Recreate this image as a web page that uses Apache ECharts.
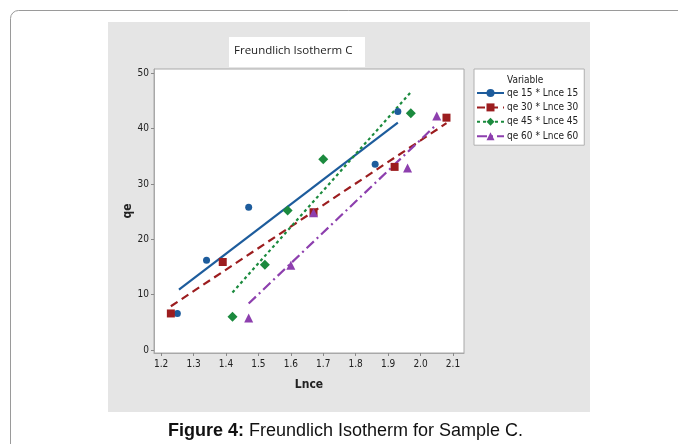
<!DOCTYPE html>
<html>
<head>
<meta charset="utf-8">
<script src="https://cdn.jsdelivr.net/npm/echarts@6/dist/echarts.min.js"></script>
<style>
  html, body { margin: 0; padding: 0; background: #fff; }
  #chart { width: 678px; height: 444px; }
</style>
</head>
<body>
<div id="chart"></div>
<script>
// tick labels
const xTicks = [1.2, 1.3, 1.4, 1.5, 1.6, 1.7, 1.8, 1.9, 2.0, 2.1]
const yTicks = [0, 10, 20, 30, 40, 50]

const seriesNames = ['qe 15 * Lnce 15', 'qe 30 * Lnce 30', 'qe 45 * Lnce 45', 'qe 60 * Lnce 60']

// observed points [Lnce, qe]
const qe15Points = [[1.25, 6.6], [1.34, 16.2], [1.47, 25.8], [1.86, 33.6], [1.93, 43.1]]
const qe30Points = [[1.23, 6.6], [1.39, 15.9], [1.67, 24.9], [1.92, 33.1], [2.08, 42.0]]
const qe45Points = [[1.42, 6.0], [1.52, 15.4], [1.59, 25.2], [1.70, 34.5], [1.97, 42.8]]
const qe60Points = [[1.47, 5.8], [1.60, 15.3], [1.67, 24.8], [1.96, 32.9], [2.05, 42.3]]

// fitted lines, end points
const qe15Fit = [[1.255, 10.9], [1.93, 41.1]]
const qe30Fit = [[1.23, 7.9], [2.08, 41.0]]
const qe45Fit = [[1.42, 10.4], [1.97, 46.6]]
const qe60Fit = [[1.47, 8.4], [2.05, 40.8]]

const colors = ['#1d5c9c', '#9c1d1f', '#1b8a3e', '#8d3fae']
const symbols = ['circle', 'rect', 'diamond', 'triangle']
const symbolSizes = [7, 8, 10, 9]
const dashTypes = ['solid', [8, 5], [3, 3], [10, 4, 2, 4]]

const fits = [qe15Fit, qe30Fit, qe45Fit, qe60Fit]
const points = [qe15Points, qe30Points, qe45Points, qe60Points]

const narrow = '"Liberation Sans Narrow", "DejaVu Sans Condensed", sans-serif'

const chart = echarts.init(document.getElementById('chart'))

const series = []
seriesNames.forEach((name, i) => {
  series.push({
    name: name,
    type: 'line',
    data: fits[i],
    symbol: symbols[i],
    showSymbol: false,
    color: colors[i],
    lineStyle: { width: 2.2, type: dashTypes[i], color: colors[i] },
    itemStyle: { color: colors[i] },
    silent: true,
    z: 2,
  })
})
seriesNames.forEach((name, i) => {
  series.push({
    name: name + ' pts',
    type: 'scatter',
    data: points[i],
    symbol: symbols[i],
    symbolSize: symbolSizes[i],
    itemStyle: { color: colors[i], opacity: 1 },
    z: 3,
  })
})

chart.setOption({
  animation: false,
  backgroundColor: '#fff',
  grid: {
    left: 154,
    right: 214,
    top: 69,
    bottom: 91,
    show: true,
    backgroundColor: '#fff',
    borderColor: '#a8a8a8',
    borderWidth: 1,
  },
  legend: {
    data: seriesNames,
    orient: 'vertical',
    left: 474,
    top: 69,
    itemWidth: 27,
    itemHeight: 10,
    itemGap: 4.4,
    padding: [19, 6, 4, 2],
    backgroundColor: '#fff',
    borderColor: '#b0b0b0',
    borderWidth: 1,
    textStyle: { fontFamily: narrow, fontSize: 10, color: '#222', padding: [0, 0, 0, -2] },
  },
  xAxis: {
    type: 'value',
    min: 1.178,
    max: 2.134,
    name: 'Lnce',
    nameLocation: 'middle',
    nameGap: 26,
    nameTextStyle: { fontFamily: narrow, fontSize: 12, fontWeight: 'bold', color: '#222' },
    axisLine: { show: true, onZero: false, lineStyle: { color: '#a8a8a8' } },
    axisTick: { show: true, length: 3, customValues: xTicks, lineStyle: { color: '#888' } },
    axisLabel: {
      customValues: xTicks,
      formatter: (v) => v.toFixed(1),
      fontFamily: narrow, fontSize: 10, color: '#222', margin: 6,
    },
    splitLine: { show: false },
  },
  yAxis: {
    type: 'value',
    min: -0.55,
    max: 50.8,
    name: 'qe',
    nameLocation: 'middle',
    nameGap: 20,
    nameRotate: 90,
    nameTextStyle: { fontFamily: narrow, fontSize: 12, fontWeight: 'bold', color: '#222' },
    axisLine: { show: true, onZero: false, lineStyle: { color: '#a8a8a8' } },
    axisTick: { show: true, length: 3, customValues: yTicks, lineStyle: { color: '#888' } },
    axisLabel: {
      customValues: yTicks,
      fontFamily: narrow, fontSize: 10, color: '#222', margin: 5,
    },
    splitLine: { show: false },
  },
  graphic: [
    {
      type: 'rect', z: -10, silent: true,
      shape: { x: 10.5, y: 10.5, width: 720, height: 500, r: 8 },
      style: { fill: '#fff', stroke: '#9a9a9a', lineWidth: 1 },
    },
    {
      type: 'rect', z: -9, silent: true,
      shape: { x: 108, y: 22, width: 482, height: 390 },
      style: { fill: '#e5e5e5' },
    },
    {
      type: 'rect', z: -8, silent: true,
      shape: { x: 229, y: 37, width: 136, height: 30 },
      style: { fill: '#fff' },
    },
    {
      type: 'text', z: 10, silent: true,
      left: 234, top: 45,
      style: { text: 'Freundlich Isotherm C', font: '11.5px "Open Sans", sans-serif', fill: '#222' },
    },
    {
      type: 'text', z: 10, silent: true,
      left: 507, top: 75,
      style: { text: 'Variable', font: '10px ' + narrow, fill: '#222' },
    },
    {
      type: 'text', z: 10, silent: true,
      left: 168, top: 422,
      style: {
        text: '{b|Figure 4:} Freundlich Isotherm for Sample C.',
        font: '18px "Liberation Sans", Arial, sans-serif',
        fill: '#111',
        rich: {
          b: { fontWeight: 'bold', fontSize: 18, fontFamily: '"Liberation Sans", Arial, sans-serif', fill: '#111' },
        },
      },
    },
  ],
  series: series,
})

window.addEventListener('resize', () => {
  chart.resize()
})
</script>
</body>
</html>
